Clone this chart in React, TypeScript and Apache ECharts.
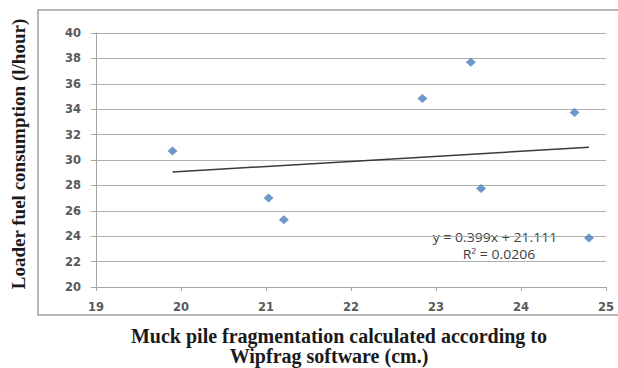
import React, { useEffect, useRef } from "react";
import * as echarts from "echarts";

const fragmentation = [19.9, 21.03, 21.21, 22.84, 23.41, 24.63, 23.53, 24.8];
const fuelConsumption = [30.7, 27.0, 25.3, 34.85, 37.7, 33.75, 27.75, 23.85];
const trendSlope = 0.399;
const trendIntercept = 21.111;
const trendRange = [19.9, 24.8];
const equationLines = ["y = 0.399x + 21.111", "R\u00b2 = 0.0206"];
const yAxisTitle = "Loader fuel consumption (l/hour)";
const xAxisTitle = ["Muck pile fragmentation calculated according to", "Wipfrag software (cm.)"];

export default function App() {
  const ref = useRef<HTMLDivElement>(null);
  useEffect(() => {
    if (!ref.current) return;
    const chart = echarts.init(ref.current, null, { renderer: "svg" });
    const points = fragmentation.map((x, i) => [x, fuelConsumption[i]]);
    const trend = trendRange.map((x) => [x, trendSlope * x + trendIntercept]);
    const tickStyle = { color: "#595959", fontFamily: "DejaVu Sans", fontWeight: "bold" as const, fontSize: 11.5 };
    const titleStyle = {
      fill: "#1a1a1a",
      fontFamily: "Liberation Serif",
      fontWeight: "bold",
      textAlign: "center",
      textVerticalAlign: "middle",
    };
    const eqStyle = {
      fill: "#404040",
      fontFamily: "Open Sans",
      fontSize: 12,
      textAlign: "center",
      textVerticalAlign: "middle",
    };
    chart.setOption({
      animation: false,
      backgroundColor: "#ffffff",
      grid: { left: 96, right: 12, top: 33, bottom: 81 },
      xAxis: {
        type: "value",
        min: 19,
        max: 25,
        interval: 1,
        axisLine: { show: true, lineStyle: { color: "#a6a6a6", width: 1 } },
        axisTick: { show: true, length: 4, lineStyle: { color: "#a6a6a6" } },
        axisLabel: { ...tickStyle, margin: 14 },
        splitLine: { show: false },
      },
      yAxis: {
        type: "value",
        min: 20,
        max: 40,
        interval: 2,
        axisLine: { show: true, lineStyle: { color: "#a6a6a6", width: 1 } },
        axisTick: { show: true, length: 5, lineStyle: { color: "#a6a6a6" } },
        axisLabel: { ...tickStyle, margin: 15 },
        splitLine: { show: true, lineStyle: { color: "#b0b0b0", width: 1 } },
      },
      series: [
        {
          type: "scatter",
          data: points,
          symbol: "diamond",
          symbolSize: [10, 9],
          itemStyle: { color: "#4a7ebb" },
          z: 3,
        },
        {
          type: "line",
          data: trend,
          symbol: "none",
          lineStyle: { color: "#3a3a3a", width: 1.5 },
          z: 2,
        },
      ],
      graphic: [
        {
          type: "rect",
          shape: { x: 38, y: 10, width: 600, height: 305 },
          style: { fill: "none", stroke: "#a0a0a0", lineWidth: 1.5 },
          silent: true,
        },
        {
          type: "text",
          x: 495,
          y: 237,
          scaleX: 1.17,
          style: { ...eqStyle, text: equationLines[0] },
        },
        {
          type: "text",
          x: 499,
          y: 254,
          scaleX: 1.17,
          style: { ...eqStyle, text: equationLines[1] },
        },
        {
          type: "text",
          x: 18,
          y: 154,
          rotation: Math.PI / 2,
          style: { ...titleStyle, fontSize: 19, text: yAxisTitle },
        },
        {
          type: "text",
          x: 339,
          y: 336,
          style: { ...titleStyle, fontSize: 20, text: xAxisTitle[0] },
        },
        {
          type: "text",
          x: 329,
          y: 356,
          style: { ...titleStyle, fontSize: 20, text: xAxisTitle[1] },
        },
      ],
    });
    return () => chart.dispose();
  }, []);
  return <div ref={ref} style={{ width: 618, height: 368, position: "absolute", left: 0, top: 0 }} />;
}
